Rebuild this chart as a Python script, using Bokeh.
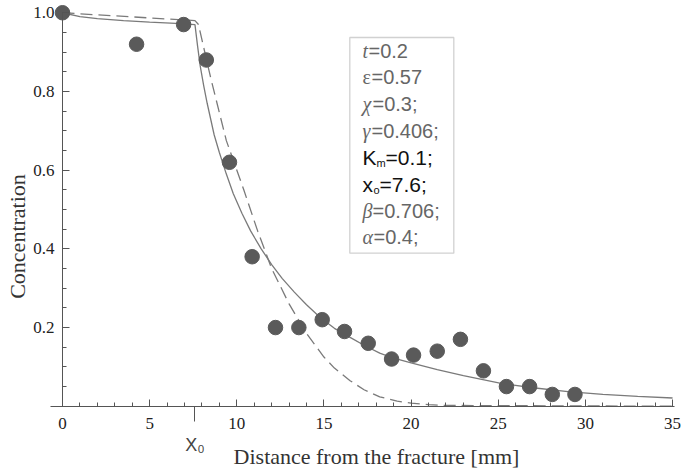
import math
from bokeh.plotting import figure
from bokeh.models import (Range1d, FixedTicker, LinearAxis, PrintfTickFormatter,
                          BoxAnnotation, Label)
from bokeh.embed import file_html
from bokeh.resources import INLINE

# ---------------- data ----------------
obs_distance = [0, 4.25, 6.95, 8.25, 9.58, 10.88, 12.22, 13.56, 14.9, 16.18,
                17.54, 18.88, 20.14, 21.5, 22.83, 24.15, 25.47, 26.8, 28.1, 29.4]
obs_conc = [1.0, 0.92, 0.97, 0.88, 0.62, 0.38, 0.20, 0.20, 0.22, 0.19,
            0.16, 0.12, 0.13, 0.14, 0.17, 0.09, 0.05, 0.05, 0.03, 0.03]

model_distance = [0, 1, 2, 3.5, 5, 6.5, 7.6, 7.75, 7.9, 8.1, 8.3, 8.5, 8.7, 9.0,
                  9.4, 9.8, 10.3, 10.8, 11.4, 12, 12.6, 13.3, 14, 14.8, 15.6,
                  16.5, 17.3, 18.2, 19, 20, 21.5, 23, 25.3, 27, 29, 31, 33, 35]
model_conc = [1.0, 0.99, 0.985, 0.98, 0.976, 0.973, 0.97, 0.915, 0.865, 0.815,
              0.77, 0.73, 0.69, 0.645, 0.59, 0.54, 0.49, 0.445, 0.40, 0.36,
              0.325, 0.29, 0.258, 0.225, 0.198, 0.175, 0.155, 0.135, 0.122,
              0.11, 0.093, 0.078, 0.057, 0.047, 0.037, 0.03, 0.025, 0.021]

alt_distance = [0, 7.6, 7.8, 8.5, 9.4, 10.4, 11.2, 12, 13, 14, 15, 15.6, 16.5,
                17.3, 18.2, 19.2, 20, 21, 22, 35]
alt_conc = [1.0, 0.98, 0.97, 0.835, 0.675, 0.55, 0.445, 0.35, 0.26, 0.185,
            0.125, 0.097, 0.065, 0.042, 0.024, 0.013, 0.008, 0.004, 0.002, 0.0]

x_ticks = [0, 5, 10, 15, 20, 25, 30, 35]
x_minor = [i for i in range(0, 36)]
y_ticks = [0.2, 0.4, 0.6, 0.8, 1.0]
y_minor = [0.05 * i for i in range(1, 21)]
X0 = 7.6
x0_tick_label = "X\u2080"
x_title = "Distance from the fracture [mm]"
y_title = "Concentration"

param_symbols = ["t", "\u03b5", "\u03c7", "\u03b3", "K", "x", "\u03b2", "\u03b1"]
param_subs = ["", "", "", "", "m", "o", "", ""]
param_values = ["=0.2", "=0.57", "=0.3;", "=0.406;", "=0.1;", "=7.6;", "=0.706;", "=0.4;"]

# ---------------- figure ----------------
W, H = 682, 471
PX_X = 17.43      # pixels per mm
PX_Y = 393.5      # pixels per concentration unit
X_ORG, Y_ORG = 62, 405.75   # pixel position of the origin

p = figure(width=W, height=H, output_backend="svg", toolbar_location=None,
           x_range=Range1d(-X_ORG / PX_X, (W - X_ORG) / PX_X),
           y_range=Range1d(-(H - Y_ORG) / PX_Y, Y_ORG / PX_Y),
           min_border_left=0, min_border_right=0, min_border_top=0,
           min_border_bottom=0)
p.outline_line_color = None
p.grid.visible = False
p.background_fill_color = "white"
p.border_fill_color = "white"

axis_col = "#555555"
lab_col = "#222222"
serif = "Liberation Serif"


def px_x(px):
    return (px - X_ORG) / PX_X


def px_y(py):
    return (Y_ORG - py) / PX_Y


xa = p.xaxis[0]
xa.fixed_location = 0
xa.bounds = (-0.7, 35.1)
xa.ticker = FixedTicker(ticks=x_ticks, minor_ticks=x_minor)
xa.axis_line_color = axis_col
xa.major_tick_line_color = axis_col
xa.minor_tick_line_color = axis_col
xa.major_tick_in = 7
xa.major_tick_out = 0
xa.minor_tick_in = 4
xa.minor_tick_out = 0
xa.major_label_standoff = 12
xa.major_label_text_font = serif
xa.major_label_text_font_size = "17px"
xa.major_label_text_color = lab_col

ya = p.yaxis[0]
ya.fixed_location = 0
ya.bounds = (0, 1.0)
ya.ticker = FixedTicker(ticks=y_ticks, minor_ticks=y_minor)
ya.formatter = PrintfTickFormatter(format="%.1f")
ya.axis_line_color = axis_col
ya.major_tick_line_color = axis_col
ya.minor_tick_line_color = axis_col
ya.major_tick_in = 7
ya.major_tick_out = 0
ya.minor_tick_in = 4
ya.minor_tick_out = 0
ya.major_label_standoff = 8
ya.major_label_text_font = serif
ya.major_label_text_font_size = "17px"
ya.major_label_text_color = lab_col

x0_axis = LinearAxis(ticker=FixedTicker(ticks=[X0]), fixed_location=0,
                     axis_line_color=None, major_tick_line_color=axis_col,
                     major_tick_in=0, major_tick_out=15,
                     minor_tick_line_color=None,
                     major_label_overrides={X0: x0_tick_label},
                     major_label_standoff=14,
                     major_label_text_font="Liberation Sans",
                     major_label_text_font_size="18px",
                     major_label_text_color="#444444")
p.add_layout(x0_axis, "below")

# axis titles
p.add_layout(Label(x=px_x(376), y=px_y(456), text=x_title, text_font=serif,
                   text_font_size="22px", text_color="#333333",
                   text_align="center", text_baseline="middle"))
p.add_layout(Label(x=px_x(17), y=px_y(236), text=y_title, text_font=serif,
                   text_font_size="22px", text_color="#333333",
                   text_align="center", text_baseline="middle",
                   angle=math.pi / 2))

# ---------------- glyphs ----------------
line_col = "#7a7a7a"
p.line(model_distance, model_conc, line_color=line_col, line_width=1.3)
p.line(alt_distance, alt_conc, line_color=line_col, line_width=1.3,
       line_dash="12 6")
p.scatter(obs_distance, obs_conc, size=14.5, fill_color="#5a5a5a",
          line_color="#5a5a5a")

# ---------------- parameter box ----------------
box = BoxAnnotation(left=px_x(349.3), right=px_x(453.3), top=px_y(37),
                    bottom=px_y(252.7), fill_color="white", fill_alpha=1.0,
                    line_color="#666666", line_width=1.3)
p.add_layout(box)

gray = "#666666"
black = "#111111"
sym_w = [6, 9, 10, 9, 14, 11, 10, 11]
tx = px_x(362)
for i, (s, sub, v) in enumerate(zip(param_symbols, param_subs, param_values)):
    yy = px_y(50 + 26.7 * i)
    if sub:
        fs = "21px"
        p.add_layout(Label(x=tx, y=yy, text=s, text_font="Liberation Sans",
                           text_font_size=fs, text_color=black,
                           text_baseline="middle"))
        p.add_layout(Label(x=tx, y=yy, x_offset=sym_w[i], y_offset=-6, text=sub,
                           text_font="Liberation Sans", text_font_size="11px",
                           text_color=black, text_baseline="middle"))
        p.add_layout(Label(x=tx, y=yy, x_offset=sym_w[i] + (9 if sub == "m" else 6),
                           text=v, text_font="Liberation Sans", text_font_size=fs,
                           text_color=black, text_baseline="middle"))
    else:
        style = "normal" if s == "\u03b5" else "italic"
        p.add_layout(Label(x=tx, y=yy, text=s, text_font=serif,
                           text_font_style=style, text_font_size="20px",
                           text_color=gray, text_baseline="middle"))
        p.add_layout(Label(x=tx, y=yy, x_offset=sym_w[i], text=v,
                           text_font="Liberation Sans", text_font_size="20px",
                           text_color=gray, text_baseline="middle"))

open("out.html", "w").write(file_html(p, INLINE))
